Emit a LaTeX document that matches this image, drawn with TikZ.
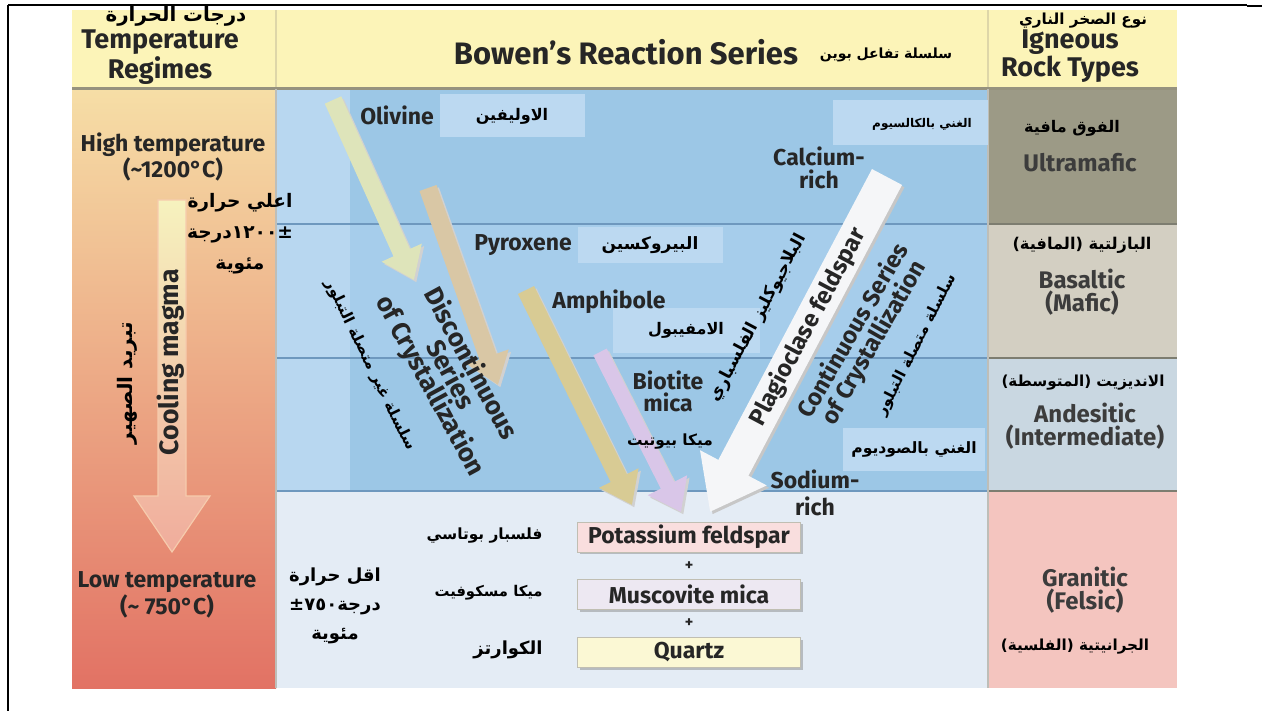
\documentclass[tikz,border=0pt]{standalone}
\usepackage{fontspec}
\setmainfont{Fira Sans}
\newfontfamily\arabicfont[Script=Arabic]{DejaVu Sans}
\TeXXeTstate=1
\usetikzlibrary{arrows.meta,positioning,shadows}
\definecolor{bwink}{RGB}{38,38,38}
\definecolor{bwhead}{RGB}{252,244,184}
\definecolor{bwheadln}{RGB}{222,214,168}
\definecolor{bwrule}{RGB}{150,146,126}
\definecolor{bwhot}{RGB}{246,222,166}
\definecolor{bwwarm}{RGB}{242,180,138}
\definecolor{bwcold}{RGB}{226,114,100}
\definecolor{bwblue}{RGB}{156,199,230}
\definecolor{bwblueb}{RGB}{166,205,235}
\definecolor{bwstrip}{RGB}{184,215,240}
\definecolor{bwtag}{RGB}{188,217,241}
\definecolor{bwblueln}{RGB}{110,152,190}
\definecolor{bwpale}{RGB}{228,236,245}
\definecolor{bwultra}{RGB}{156,154,134}
\definecolor{bwbasalt}{RGB}{211,207,194}
\definecolor{bwandes}{RGB}{201,215,225}
\definecolor{bwgranite}{RGB}{244,197,191}
\definecolor{bwcolln}{RGB}{125,125,112}
\definecolor{bwol}{RGB}{222,228,186}
\definecolor{bwpx}{RGB}{217,199,165}
\definecolor{bwam}{RGB}{216,203,148}
\definecolor{bwbt}{RGB}{217,198,232}
\definecolor{bwpl}{RGB}{245,246,248}
\definecolor{bwkfs}{RGB}{249,222,222}
\definecolor{bwmus}{RGB}{237,232,242}
\definecolor{bwqtz}{RGB}{251,248,212}
\definecolor{bwcoolt}{RGB}{246,242,190}
\definecolor{bwcoolb}{RGB}{240,172,156}
\newcommand{\artxt}[1]{{\arabicfont\bfseries\beginR #1\endR}}
\tikzset{
  en/.style={font=\fontsize{11.5}{12}\selectfont\bfseries, text=bwink, align=center, inner sep=0pt},
  enhd/.style={en, font=\fontsize{13.5}{11}\selectfont\bfseries},
  enbig/.style={en, font=\fontsize{15.5}{16}\selectfont\bfseries},
  rock/.style={en, font=\fontsize{12}{10}\selectfont\bfseries, text=bwink!90},
  ar/.style={font=\fontsize{8}{10}\selectfont, text=black, align=center, inner sep=0pt},
  tag/.style={ar, fill=bwtag},
  mbox/.style={draw=bwrule!60, line width=0.4pt, minimum width=111.5pt, minimum height=15pt,
    inner sep=0pt, font=\fontsize{11.5}{12}\selectfont\bfseries, text=bwink,
    drop shadow={shadow xshift=1.2pt, shadow yshift=-1.2pt, opacity=0.45}},
  plus/.style={font=\fontsize{8}{9}\selectfont\bfseries, text=bwink, minimum height=11pt, inner sep=0pt},
  minarr/.style={line width=9pt, -{Triangle[length=15pt,width=21pt]}},
  plagarr/.style={line width=17pt, -{Triangle[length=25pt,width=36pt]}},
  rowln/.style={draw=bwblueln, line width=1pt},
  colln/.style={draw=bwcolln, line width=1.2pt}
}
\begin{document}
\begin{tikzpicture}[x=0.5pt, y=-0.5pt]
  \useasboundingbox (0,0) rectangle (1262,711);
  % table cells
  \fill[bwhead] (72,10) rectangle (1177,89);
  \draw[bwheadln, line width=1pt] (276,10) -- (276,89) (988,10) -- (988,89);
  \shade[top color=bwhot, middle color=bwwarm, bottom color=bwcold] (72,89) rectangle (276,688);
  \fill[bwblue] (276,89) rectangle (988,224);
  \fill[bwblueb] (276,224) rectangle (988,358);
  \fill[bwblue] (276,358) rectangle (988,491);
  \fill[bwstrip] (276,89) rectangle (350,491);
  \fill[bwpale] (276,491) rectangle (988,688);
  \fill[bwultra] (988,89) rectangle (1177,224);
  \fill[bwbasalt] (988,224) rectangle (1177,358);
  \fill[bwandes] (988,358) rectangle (1177,491);
  \fill[bwgranite] (988,491) rectangle (1177,688);
  \draw[bwrule, line width=1.5pt] (72,89) -- (1177,89);
  \draw[rowln] (276,224) -- (988,224) (276,358) -- (988,358) (276,491) -- (988,491);
  \draw[colln] (988,224) -- (1177,224) (988,358) -- (1177,358) (988,491) -- (1177,491);
  \draw[bwcolln!50, line width=0.8pt] (988,89) -- (988,688) (276,89) -- (276,688);
  % page frame
  \draw[black, line width=1pt] (8,5) -- (1247,5) (8,5) -- (8,711) (1247,6) -- (1262,6);

  % tags behind arabic names
  \node[tag, minimum width=72.5pt, minimum height=21.5pt] (olAr) at (512,116) {\artxt{الاوليفين}};
  \node[tag, font=\fontsize{6}{7}\selectfont, minimum width=77.5pt, minimum height=22.5pt, text depth=0pt] (caAr) at (910,123) {\hspace*{12pt}\artxt{الغني بالكالسيوم}};
  \node[tag, font=\fontsize{8.5}{10}\selectfont, minimum width=72.5pt, minimum height=18pt] (pxAr) at (650,245) {\artxt{البيروكسين}};
  \node[tag, minimum width=73.5pt, minimum height=22.5pt] (amAr) at (686,330) {\artxt{الامفيبول}};
  \node[tag, font=\fontsize{7.8}{10}\selectfont, minimum width=71pt, minimum height=21.5pt] (naAr) at (914,449) {\artxt{الغني بالصوديوم}};

  % cooling arrow
  \shade[top color=bwcoolt, bottom color=bwcoolb, draw=bwwarm!70, line width=0.6pt]
    (158,200) -- (186,200) -- (186,496) -- (210,496) -- (172,552) -- (134,496) -- (158,496) -- cycle;

  % crystallization arrows
  \coordinate (olS) at (333,100);  \coordinate (olE) at (414,280);
  \coordinate (pxS) at (428,188);  \coordinate (pxE) at (498,385);
  \coordinate (amS) at (526,290);  \coordinate (amE) at (632,505);
  \coordinate (btS) at (600,352);  \coordinate (btE) at (681,512);
  \coordinate (plS) at (887,177);  \coordinate (plE) at (710,512);
  \begin{scope}[transform canvas={shift={(1.2pt,-1.2pt)}}]
    \draw[minarr, black!18] (olS) -- (olE);
    \draw[minarr, black!18] (pxS) -- (pxE);
    \draw[minarr, black!18] (amS) -- (amE);
    \draw[minarr, black!18, line width=7.5pt] (btS) -- (btE);
    \draw[plagarr, black!22] (plS) -- (plE);
  \end{scope}
  \draw[minarr, bwol] (olS) -- (olE);
  \draw[minarr, bwpx] (pxS) -- (pxE);
  \draw[minarr, bwam] (amS) -- (amE);
  \draw[minarr, bwbt, line width=7.5pt] (btS) -- (btE);
  \draw[plagarr, bwpl] (plS) -- (plE);

  % headers
  \node[ar, font=\fontsize{9.9}{11}\selectfont] (tmpAr) at (176,16) {\artxt{درجات الحرارة}};
  \node[enhd] (tmpHd) at (160,57) {Temperature\\Regimes};
  \node[enbig] (title) at (626,52) {Bowen’s Reaction Series};
  \node[ar, font=\fontsize{7}{9}\selectfont] (titleAr) at (886,55) {\artxt{سلسلة تفاعل بوين}};
  \node[ar, font=\fontsize{7.6}{9}\selectfont] (rockAr) at (1083,21) {\artxt{نوع الصخر الناري}};
  \node[enhd] (rockHd) at (1070,56) {Igneous\\Rock Types};

  % temperature column
  \node[en] (hiT) at (173,157) {High temperature\\(\textasciitilde1200°C)};
  \node[ar, font=\fontsize{9.3}{15.5}\selectfont] (hiAr) at (240,234)
    {\artxt{اعلي حرارة}\\\artxt{±\kern0pt١٢٠٠\kern0ptدرجة}\\\artxt{مئوية}};
  \node[en, font=\fontsize{13.3}{14}\selectfont\bfseries, rotate=90] (cool) at (171,362) {Cooling magma};
  \node[ar, font=\fontsize{10}{12}\selectfont, rotate=90] (coolAr) at (127,383) {\artxt{تبريد الصهير}};
  \node[en] (loT) at (167,595) {Low temperature\\(\textasciitilde{} 750°C)};
  \node[ar, font=\fontsize{9}{14.5}\selectfont] (loAr) at (335,606)
    {\artxt{اقل حرارة}\\\artxt{درجة\kern0pt٧٥٠\kern0pt±}\\\artxt{مئوية}};

  % minerals
  \node[en] (olv) at (397,115) {Olivine};
  \node[en] (pyx) at (523,245) {Pyroxene};
  \node[en] (amp) at (609,302) {Amphibole};
  \node[en, font=\fontsize{11.5}{11}\selectfont\bfseries] (bio) at (668,391) {Biotite\\mica};
  \node[ar, font=\fontsize{7.7}{9}\selectfont] (bioAr) at (670,442) {\artxt{ميكا بيوتيت}};
  \node[en, font=\fontsize{11.5}{11.5}\selectfont\bfseries] (ca) at (819,168) {Calcium-\\rich};
  \node[en, font=\fontsize{11.5}{13.5}\selectfont\bfseries] (na) at (815,493) {Sodium-\\rich};

  % series labels
  \node[en, font=\fontsize{13}{11.5}\selectfont\bfseries, rotate=-61.5] (disc) at (450,375)
    {Discontinuous\\Series\\of Crystallization};
  \node[ar, font=\fontsize{7.6}{9}\selectfont, rotate=-64] (discAr) at (370,365) {\artxt{سلسلة غير متصلة التبلور}};
  \node[en, font=\fontsize{11.9}{12}\selectfont\bfseries, rotate=62] (plag) at (808,327) {Plagioclase feldspar};
  \node[ar, font=\fontsize{8.4}{9}\selectfont, rotate=62] (plagAr) at (758,318) {\artxt{البلاجيوكليز الفلسباري}};
  \node[en, font=\fontsize{11.9}{11.8}\selectfont\bfseries, rotate=60] (cont) at (864,337)
    {Continuous Series\\of Crystallization};
  \node[ar, font=\fontsize{7.6}{9}\selectfont, rotate=63] (contAr) at (917,345) {\artxt{سلسلة متصلة التبلور}};

  % final assemblage
  \node[mbox, fill=bwkfs] (kfs) at (689,537) {Potassium feldspar};
  \node[plus, below=1pt of kfs] (p1) {+};
  \node[mbox, fill=bwmus, below=1pt of p1] (mus) {Muscovite mica};
  \node[plus, below=1pt of mus] (p2) {+};
  \node[mbox, fill=bwqtz, below=1pt of p2] (qtz) {Quartz};
  \node[ar, font=\fontsize{7.7}{9}\selectfont, anchor=east] (kfsAr) at (543,536) {\artxt{فلسبار بوتاسي}};
  \node[ar, font=\fontsize{7.4}{9}\selectfont, anchor=east] (musAr) at (543,593) {\artxt{ميكا مسكوفيت}};
  \node[ar, font=\fontsize{9}{10}\selectfont, anchor=east] (qtzAr) at (543,650) {\artxt{الكوارتز}};

  % rock types
  \node[ar] (umAr) at (1072,128) {\artxt{الفوق مافية}};
  \node[rock] (um) at (1080,163) {Ultramafic};
  \node[ar, font=\fontsize{8.1}{10}\selectfont] (baAr) at (1082,245) {\artxt{البازلتية (المافية)}};
  \node[rock] (ba) at (1082,292) {Basaltic\\(Mafic)};
  \node[ar, font=\fontsize{7.6}{10}\selectfont] (anAr) at (1083,383) {\artxt{الانديزيت (المتوسطة)}};
  \node[rock] (an) at (1085,426) {Andesitic\\(Intermediate)};
  \node[rock] (gr) at (1085,590) {Granitic\\(Felsic)};
  \node[ar, font=\fontsize{7.6}{10}\selectfont] (grAr) at (1075,647) {\artxt{الجرانيتية (الفلسية)}};
\end{tikzpicture}
\end{document}
